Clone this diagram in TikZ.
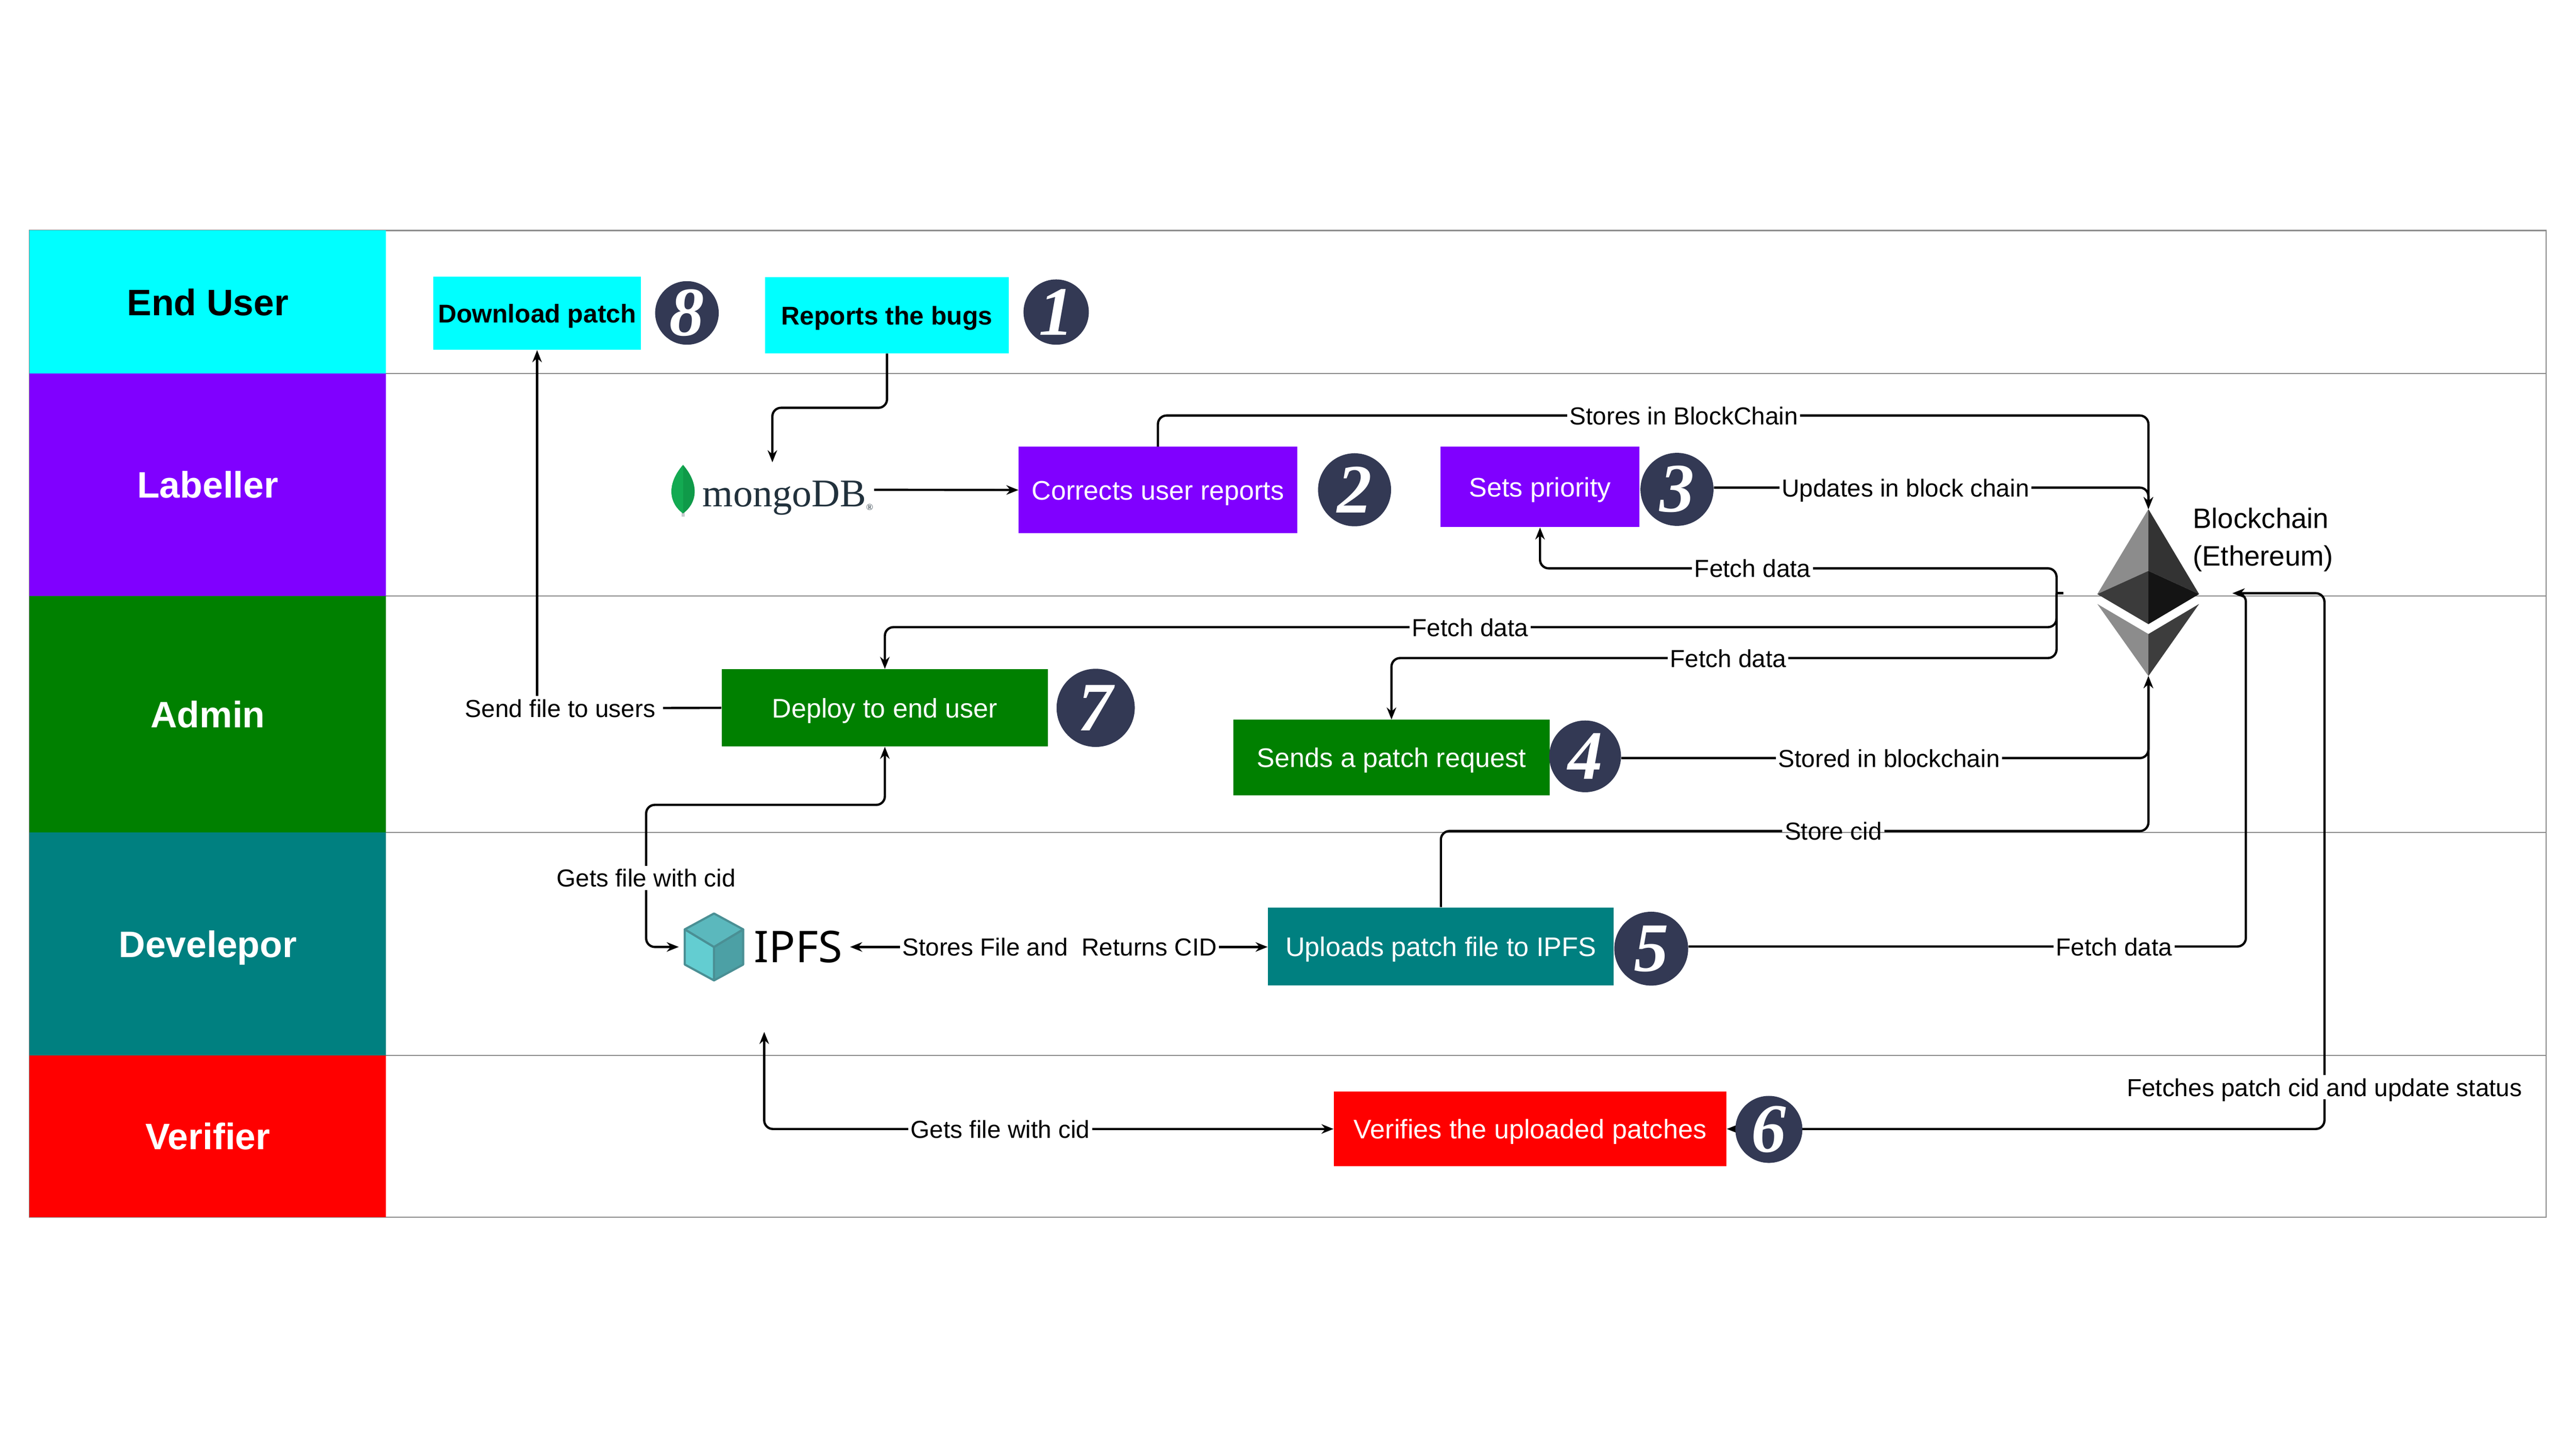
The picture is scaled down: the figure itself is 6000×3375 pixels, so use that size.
\documentclass[tikz,border=0pt]{standalone}
\usepackage{fontspec}
\setmainfont{Liberation Sans}
\newfontfamily\digitfont{Liberation Serif}
\newfontfamily\logofont{Noto Sans}
\usepackage{tikz}
\usetikzlibrary{arrows.meta,backgrounds}
\tikzset{>={Stealth[width=2.2mm,length=2.8mm]}}
\definecolor{lanecyan}{HTML}{00FFFF}
\definecolor{lanepurple}{HTML}{8000FF}
\definecolor{lanegreen}{HTML}{008000}
\definecolor{laneteal}{HTML}{008080}
\definecolor{lanered}{HTML}{FF0000}
\definecolor{badgeblue}{HTML}{333954}
\definecolor{rowgray}{HTML}{8A8A8A}
\definecolor{mongoink}{HTML}{21313C}
\definecolor{leafa}{HTML}{13AA52}
\definecolor{leafb}{HTML}{0F9A49}
\definecolor{cubetop}{HTML}{5BB8BD}
\definecolor{cubeleft}{HTML}{63CDD1}
\definecolor{cuberight}{HTML}{4CA0A5}
\definecolor{cubeedge}{HTML}{4A8F94}

\begin{document}
\begin{tikzpicture}[x=0.01cm, y=-0.01cm,
  lane/.style = {minimum width=8.30cm, font=\fontsize{24.4}{28}\selectfont\bfseries, text=white, inner sep=0pt, text height=17.6pt, text depth=0pt},
  task/.style = {inner sep=0pt, text=white, font=\fontsize{17.8}{22}\selectfont, text height=13pt, text depth=0pt},
  user/.style = {inner sep=0pt, fill=lanecyan, font=\fontsize{17}{20}\selectfont\bfseries, text height=12.5pt, text depth=0pt},
  badge/.style = {circle, fill=badgeblue, text=white, inner sep=0pt, font=\digitfont\fontsize{46}{46}\selectfont\bfseries\itshape},
  tag/.style = {fill=white, inner xsep=1.5pt, inner ysep=2pt, font=\fontsize{16.3}{20}\selectfont, text height=12pt, text depth=0pt},
  link/.style = {line width=1.5pt, rounded corners=2mm},
  row/.style = {rowgray, line width=0.7pt},
  cube/.style = {draw=cubeedge, line width=1.4pt, line join=round}]
\useasboundingbox (0,0) rectangle (6000,3375);

% lanes
\node[lane, fill=lanecyan, text=black, minimum height=3.33cm] (enduser) at (484,703.5) {End User};
\node[lane, fill=lanepurple, minimum height=5.18cm] (labeller) at (484,1129) {Labeller};
\node[lane, fill=lanegreen, minimum height=5.51cm] (admin) at (484,1663.5) {Admin};
\node[lane, fill=laneteal, minimum height=5.20cm] (developer) at (484,2199) {Develepor};
\node[lane, fill=lanered, minimum height=3.76cm] (verifier) at (484,2647) {Verifier};

% tasks
\node[user, minimum width=4.83cm, minimum height=1.71cm] (download) at (1251,729.5) {Download patch};
\node[user, minimum width=5.67cm, minimum height=1.77cm] (reports) at (2066,734.5) {Reports the bugs};
\node[task, fill=lanepurple, minimum width=6.48cm, minimum height=2.01cm] (corrects) at (2697,1141.5) {Corrects user reports};
\node[task, fill=lanepurple, minimum width=4.63cm, minimum height=1.87cm] (priority) at (3587,1134.5) {Sets priority};
\node[task, fill=lanegreen, minimum width=7.60cm, minimum height=1.80cm] (deploy) at (2061,1649) {Deploy to end user};
\node[task, fill=lanegreen, minimum width=7.36cm, minimum height=1.76cm] (patchreq) at (3241,1765) {Sends a patch request};
\node[task, fill=laneteal, minimum width=8.05cm, minimum height=1.81cm] (uploads) at (3356,2204.5) {Uploads patch file to IPFS};
\node[task, fill=lanered, minimum width=9.14cm, minimum height=1.74cm] (verifies) at (3564,2630) {Verifies the uploaded patches};

% numbers
\node[badge, minimum size=1.48cm] (n8) at (1600,729) {8};
\node[badge, minimum size=1.52cm] (n1) at (2460,727) {1};
\node[badge, minimum size=1.70cm] (n2) at (3155,1141) {2};
\node[badge, minimum size=1.70cm] (n3) at (3906,1140) {3};
\node[badge, minimum size=1.67cm] (n4) at (3692,1762) {4};
\node[badge, minimum size=1.72cm] (n5) at (3846,2210) {5};
\node[badge, minimum size=1.56cm] (n6) at (4120,2631) {6};
\node[badge, minimum size=1.82cm] (n7) at (2552,1649) {7};

% mongoDB logo
\node[anchor=base west, inner sep=0pt, text=mongoink, font=\digitfont\fontsize{26}{30}\selectfont] (mongo) at (1636,1180) {mongoDB\raisebox{-0.2ex}{\fontsize{6}{6}\selectfont ®}};
\fill[mongoink!25] (1587,1180) rectangle (1595,1203);
\fill[leafb] (1591,1083) .. controls (1552,1128) and (1558,1172) .. (1591,1196) .. controls (1624,1172) and (1630,1128) .. (1591,1083);
\fill[leafa] (1591,1083) .. controls (1552,1128) and (1558,1172) .. (1591,1196) -- cycle;
\coordinate (mongotop) at (1799,1077);
\coordinate (mongoout) at (2036,1141);

% IPFS logo
\filldraw[cube, fill=cubeleft] (1663,2206) -- (1663,2284) -- (1595,2247) -- (1595,2165) -- cycle;
\filldraw[cube, fill=cuberight] (1663,2206) -- (1663,2284) -- (1731,2247) -- (1731,2165) -- cycle;
\filldraw[cube, fill=cubetop] (1663,2128) -- (1731,2165) -- (1663,2206) -- (1595,2165) -- cycle;
\node[anchor=west, inner sep=0pt, font=\logofont\fontsize{29}{30}\selectfont] (ipfs) at (1756,2206) {IPFS};
\coordinate (ipfsleft) at (1581,2206);
\coordinate (ipfsright) at (1980,2206);
\coordinate (ipfsbot) at (1780,2404);

% ethereum logo
\fill[black!45] (5004,1186) -- (5004,1330) -- (4885,1384) -- cycle;
\fill[black!80] (5004,1186) -- (5004,1330) -- (5122,1384) -- cycle;
\fill[black!77] (5004,1330) -- (5004,1454) -- (4885,1384) -- cycle;
\fill[black!92] (5004,1330) -- (5004,1454) -- (5122,1384) -- cycle;
\fill[black!45] (5004,1477) -- (5004,1575) -- (4885,1407) -- cycle;
\fill[black!76] (5004,1477) -- (5004,1575) -- (5122,1407) -- cycle;
\node[anchor=north west, inner sep=0pt, align=left, font=\fontsize{18.6}{25}\selectfont] (chain) at (5107,1182) {Blockchain\\(Ethereum)};
\coordinate (etop) at (5004,1186);
\coordinate (ebot) at (5004,1575);
\coordinate (eside) at (5200,1382);
\coordinate (hubend) at (4806,1382);
\coordinate (hub) at (4790,1382);

% labels
\node[tag] (stores) at (3922,968) {Stores in BlockChain};
\node[tag] (updates) at (4438,1136) {Updates in block chain};
\node[tag] (fetcha) at (4082,1324) {Fetch data};
\node[tag] (fetchb) at (3424,1461) {Fetch data};
\node[tag] (fetchc) at (4025,1533) {Fetch data};
\node[tag] (stored) at (4400,1766) {Stored in blockchain};
\node[tag, fill=none] (storecid) at (4270,1936) {Store cid};
\node[tag] (fetchd) at (4924,2205) {Fetch data};
\node[tag] (fetches) at (5414,2533) {Fetches patch cid and update status};
\node[tag, inner xsep=5pt] (sendfile) at (1305,1650) {Send file to users};
\node[tag] (getsa) at (1505,2045) {Gets file with cid};
\node[tag] (filecid) at (2468,2206) {Stores File and~~Returns CID};
\node[tag] (getsb) at (2330,2630) {Gets file with cid};

\begin{scope}[on background layer]
\draw[row] (69,537) rectangle (5930,2835);
\draw[row] (69,870) -- (5930,870);
\draw[row] (69,1388) -- (5930,1388);
\draw[row] (69,1939) -- (5930,1939);
\draw[row] (69,2459) -- (5930,2459);
\draw[link,->] (reports.south) |- (1799,950) -- (mongotop);
\draw[link,->] (mongoout) -- (corrects.west);
\draw[link,->] (corrects.north) |- (stores.center) -| (etop);
\draw[link,->] (n3.east |- updates.center) -- (updates.center) -| (etop);
\draw[link] (hubend) -- (hub);
\draw[link,->] (hub) |- (fetcha.center) -| (priority.south);
\draw[link,->] (hub) |- (fetchb.center) -| (deploy.north);
\draw[link,->] (hub) |- (fetchc.center) -| (patchreq.north);
\draw[link,->] (n4.east |- stored.center) -- (stored.center) -| (ebot);
\draw[link] (uploads.north) |- (storecid.west);
\draw[link,->] (storecid.east) -| (ebot);
\draw[link,->] (n5.east |- fetchd.center) -- (fetchd.center) -| (5231,1420) |- (eside);
\draw[link,<->] (verifies.east) -- (5414,2630) -- (5414,1382) -- (eside);
\draw[link] (deploy.west) -- (sendfile.center);
\draw[link,->] (sendfile.north -| download.south) -- (download.south);
\draw[link,<->] (deploy.south) |- (1505,1875) -- (1505,2206) -- (ipfsleft);
\draw[link,<->] (ipfsright) -- (filecid.center) -- (uploads.west |- filecid.center);
\draw[link,<->] (ipfsbot) |- (getsb.center) -- (verifies.west |- getsb.center);
\end{scope}
\end{tikzpicture}
\end{document}
